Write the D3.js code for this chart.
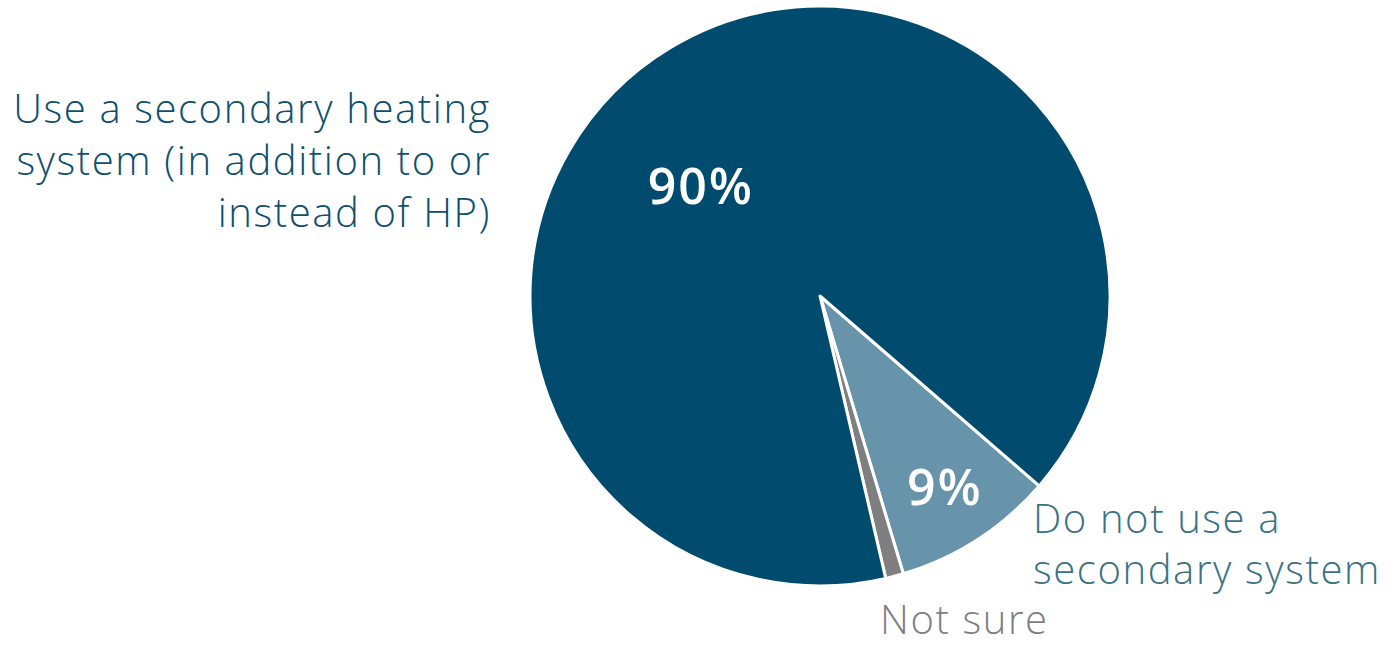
<!DOCTYPE html>
<html>
<head>
<meta charset="utf-8">
<script src="https://cdn.jsdelivr.net/npm/d3@7"></script>
<style>
  body { margin: 0; background: #fff; }
  svg { display: block; font-family: "Open Sans", Lato, sans-serif; }
</style>
</head>
<body>
<svg id="chart" width="1388" height="646"></svg>
<script>
// survey answers, drawn clockwise starting with "Do not use"
const categories = ["Do not use a secondary system", "Not sure", "Use a secondary heating system (in addition to or instead of HP)"];
const values = [9, 1, 90];
const valueLabels = ["9%", "", "90%"];

const colors = ["#6793ab", "#7f7f7f", "#014b6f"];

const svg = d3.select("#chart");
const cx = 820, cy = 296, radius = 290;

const pie = d3.pie()
  .sort(null)
  .startAngle(130.9 * Math.PI / 180)
  .endAngle((130.9 + 360) * Math.PI / 180)
  .value((d) => d);

const arcs = pie(values);

const arc = d3.arc().innerRadius(0).outerRadius(radius);

const g = svg.append("g").attr("transform", `translate(${cx},${cy})`);

g.selectAll("path")
  .data(arcs)
  .join("path")
  .attr("d", arc)
  .attr("fill", (d, i) => colors[i])
  .attr("stroke", "#fff")
  .attr("stroke-width", 3)
  .attr("stroke-linejoin", "round");

// value labels inside slices (big slice label is nudged toward upper left)
const labelPlace = [
  { r: 228, angle: null },
  { r: 0, angle: null },
  { r: 163, angle: 312.5 }
];

g.selectAll("text.value")
  .data(arcs)
  .join("text")
  .attr("class", "value")
  .each(function (d, i) {
    const p = labelPlace[i];
    const a = p.angle !== null ? p.angle * Math.PI / 180 : (d.startAngle + d.endAngle) / 2;
    d3.select(this)
      .attr("x", Math.sin(a) * p.r + 1)
      .attr("y", -Math.cos(a) * p.r);
  })
  .attr("dy", "0.36em")
  .attr("text-anchor", "middle")
  .attr("fill", "#fff")
  .attr("font-size", 50)
  .attr("font-weight", 600)
  .attr("letter-spacing", 2)
  .text((d, i) => valueLabels[i]);

// category labels
const useLabel = svg.append("text")
  .attr("text-anchor", "end")
  .attr("fill", "#0e4f6e")
  .attr("font-weight", 300)
  .attr("font-size", 40)
  .attr("letter-spacing", 1.6);
["Use a secondary heating", "system (in addition to or", "instead of HP)"].forEach((t, i) => {
  useLabel.append("tspan").attr("x", 491).attr("y", 123 + i * 52).text(t);
});

const noLabel = svg.append("text")
  .attr("fill", "#3a7284")
  .attr("font-weight", 300)
  .attr("font-size", 40)
  .attr("letter-spacing", 1.6);
["Do not use a", "secondary system"].forEach((t, i) => {
  noLabel.append("tspan").attr("x", 1033).attr("y", 533 + i * 51).text(t);
});

svg.append("text")
  .attr("x", 880)
  .attr("y", 634)
  .attr("fill", "#7f7f7f")
  .attr("font-weight", 300)
  .attr("font-size", 40)
  .attr("letter-spacing", 1.6)
  .text(categories[1]);
</script>
</body>
</html>
